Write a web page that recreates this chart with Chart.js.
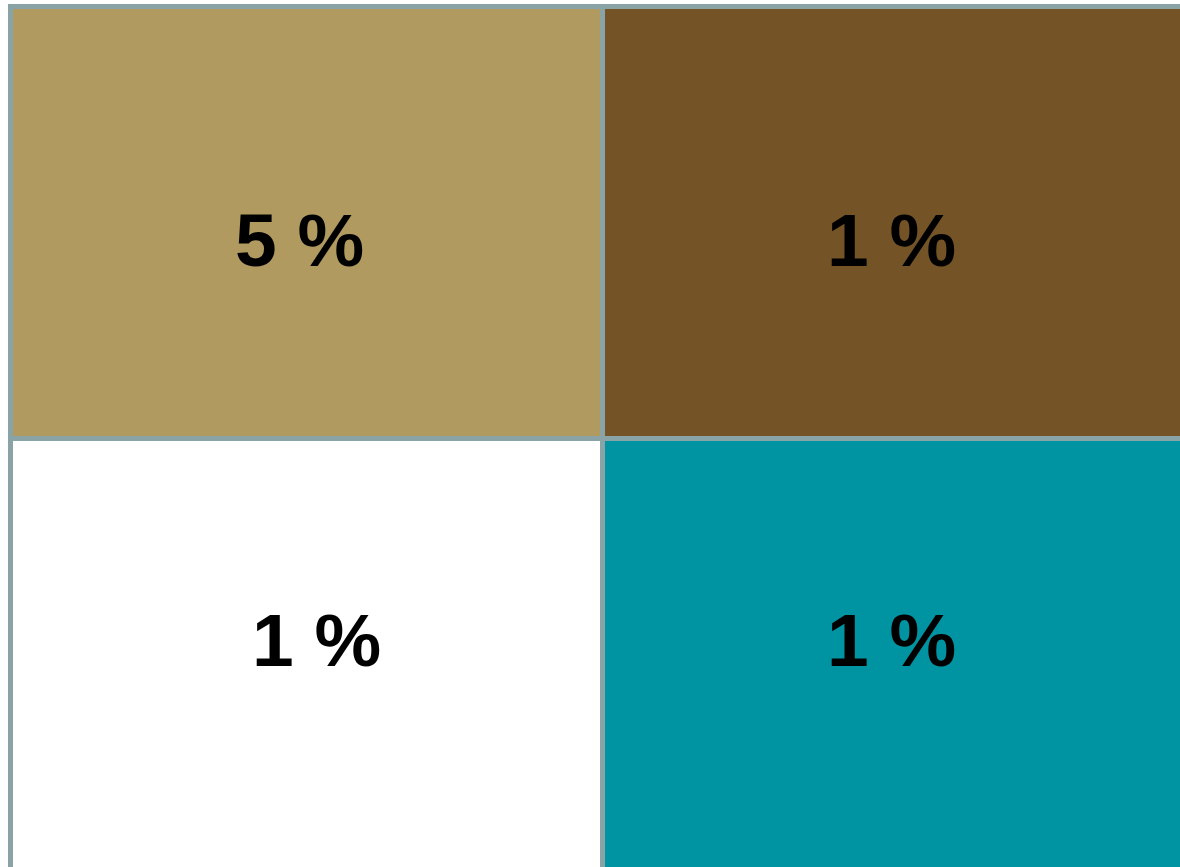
<!DOCTYPE html>
<html>
<head>
<meta charset="utf-8">
<script src="https://cdn.jsdelivr.net/npm/chart.js@4/dist/chart.umd.min.js"></script>
<style>
  html, body { margin: 0; padding: 0; background: #ffffff; overflow: hidden; }
  #wrap { width: 1200px; height: 875px; position: relative; }
</style>
</head>
<body>
<div id="wrap"><canvas id="c"></canvas></div>
<script>
// Data
const columns = ['A', 'B'];
const rows = ['bottom', 'top'];            // stacking order: bottom row first
const percentBottom = [1, 1];              // bottom row labels (%)
const percentTop = [5, 1];                 // top row labels (%)
const cellUnit = [1, 1];                   // each cell occupies one unit
const colorsBottom = ['#ffffff', '#0093a1'];
const colorsTop = ['#b09a5f', '#745426'];

const gridColor = '#8aa3a6';

// label placement style (pixel nudges relative to cell centre)
const labelStyle = {
  font: 'bold 75px "Liberation Sans", Arial, sans-serif',
  color: '#000000',
  nudge: {
    top:    [{dx: -7, dy: 43.5}, {dx: -7, dy: 43.5}],
    bottom: [{dx: 10, dy: 11.5}, {dx: -7, dy: 11.5}]
  }
};

const cellGridPlugin = {
  id: 'cellGrid',
  afterDatasetsDraw(chart) {
    const ctx = chart.ctx;
    const xs = chart.scales.x, ys = chart.scales.y;
    const ca = chart.chartArea;
    ctx.save();
    ctx.strokeStyle = gridColor;
    ctx.lineWidth = 5;
    ctx.lineCap = 'butt';
    // vertical boundaries between categories
    const n = xs.ticks.length;
    const step = (xs.getPixelForTick(n - 1) - xs.getPixelForTick(0)) / Math.max(1, n - 1);
    for (let i = 0; i <= n; i++) {
      const px = xs.getPixelForTick(0) - step / 2 + i * step;
      ctx.beginPath();
      ctx.moveTo(px, ca.top - 2.5);
      ctx.lineTo(px, ca.bottom + 2.5);
      ctx.stroke();
    }
    // horizontal boundaries between rows
    for (let v = ys.min; v <= ys.max; v++) {
      const py = ys.getPixelForValue(v);
      ctx.beginPath();
      ctx.moveTo(ca.left - 2.5, py);
      ctx.lineTo(ca.right + 2.5, py);
      ctx.stroke();
    }
    ctx.restore();
  }
};

const labelPlugin = {
  id: 'cellLabels',
  afterDraw(chart) {
    const ctx = chart.ctx;
    ctx.save();
    ctx.font = labelStyle.font;
    ctx.fillStyle = labelStyle.color;
    ctx.textAlign = 'center';
    ctx.textBaseline = 'alphabetic';
    chart.data.datasets.forEach((ds, di) => {
      const meta = chart.getDatasetMeta(di);
      meta.data.forEach((bar, i) => {
        const cx = bar.x;
        const cy = (bar.y + bar.base) / 2;
        const n = labelStyle.nudge[ds.rowKey][i];
        ctx.fillText(ds.percent[i] + ' %', cx + n.dx, cy + n.dy);
      });
    });
    ctx.restore();
  }
};

new Chart(document.getElementById('c'), {
  type: 'bar',
  data: {
    labels: columns,
    datasets: [
      { rowKey: 'bottom', percent: percentBottom, data: cellUnit, backgroundColor: colorsBottom, borderWidth: 0 },
      { rowKey: 'top', percent: percentTop, data: cellUnit, backgroundColor: colorsTop, borderWidth: 0 }
    ]
  },
  options: {
    responsive: true,
    maintainAspectRatio: false,
    animation: false,
    events: [],
    layout: { padding: { left: 10.5, top: 6.5, right: 5.5, bottom: 4.5 } },
    datasets: { bar: { barPercentage: 1, categoryPercentage: 1 } },
    plugins: { legend: { display: false }, tooltip: { enabled: false } },
    scales: {
      x: {
        stacked: true,
        offset: true,
        grid: { display: false, drawTicks: false },
        border: { display: false },
        ticks: { display: false }
      },
      y: {
        stacked: true,
        min: 0, max: 2,
        grid: { display: false, drawTicks: false },
        border: { display: false },
        ticks: { display: false, stepSize: 1 }
      }
    }
  },
  plugins: [cellGridPlugin, labelPlugin]
});
</script>
</body>
</html>
